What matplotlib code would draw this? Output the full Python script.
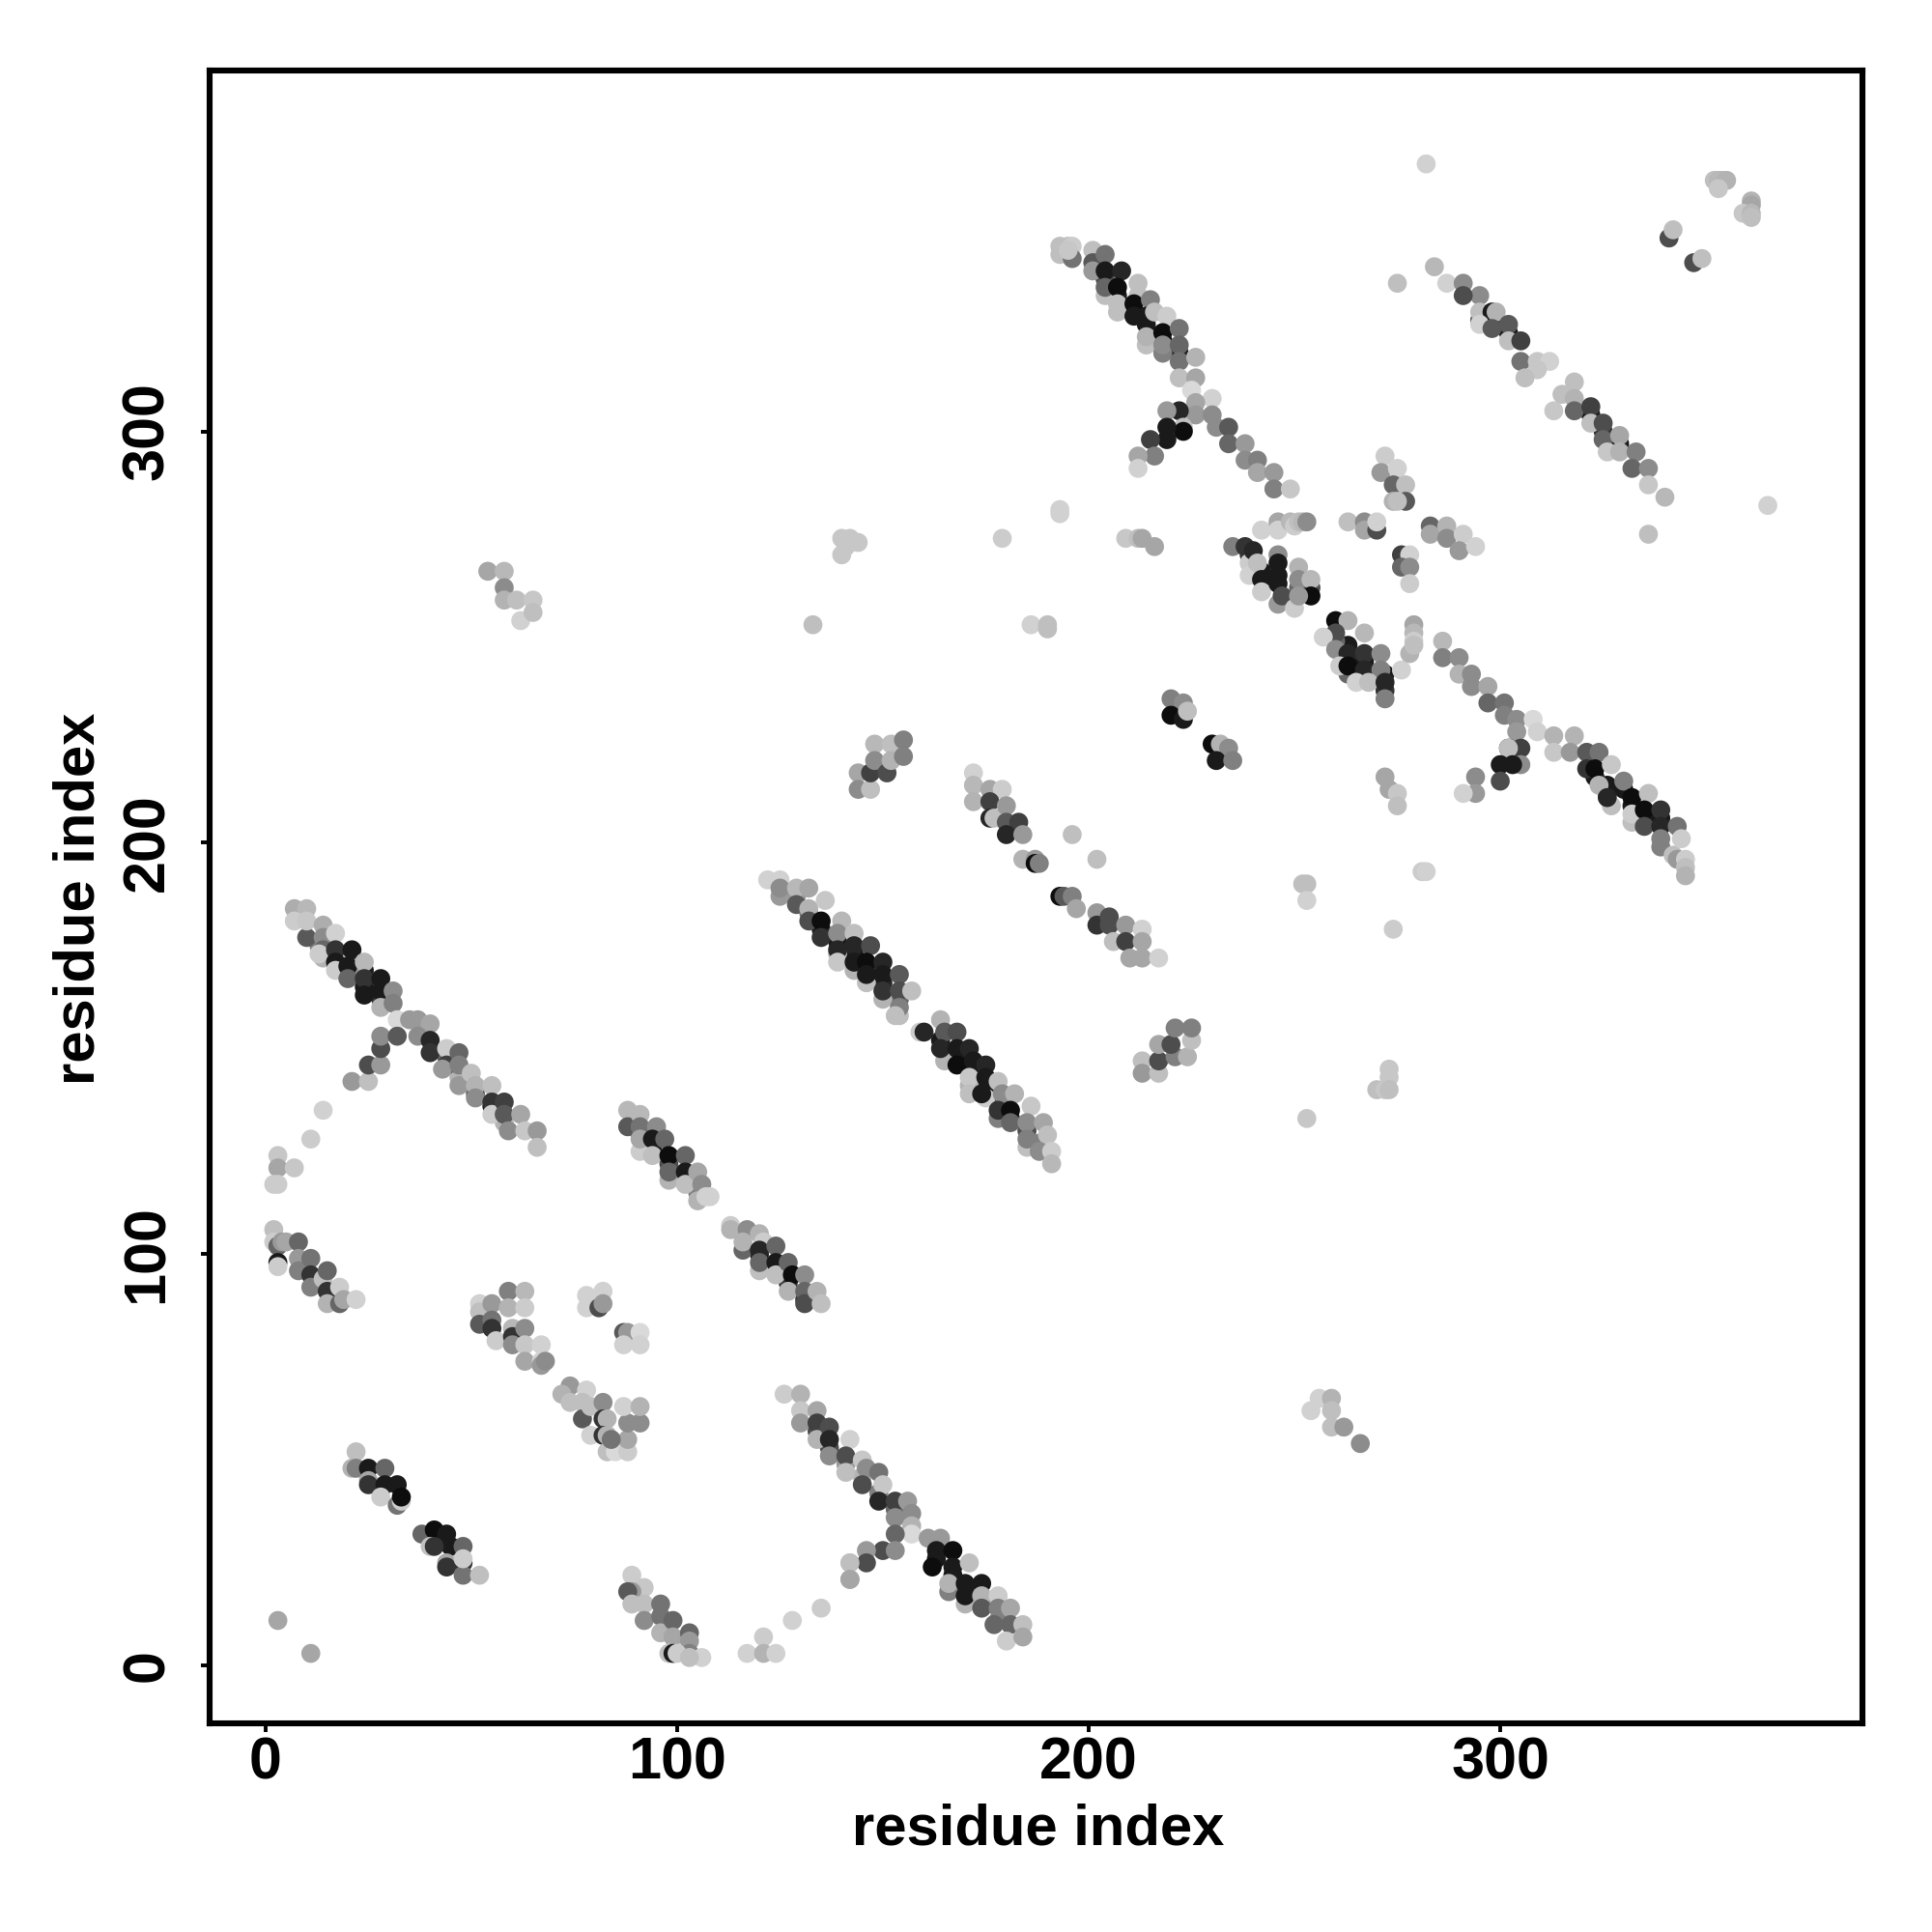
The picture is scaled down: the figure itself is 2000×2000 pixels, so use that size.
import matplotlib
matplotlib.use('Agg')
import matplotlib.pyplot as plt

plt.rcParams['font.family'] = ['Liberation Sans', 'DejaVu Sans']

# points peeking out under the strands, drawn first
under_x = [17,20,24,28,13,14,24,21,44,47,51,55,58,132,135,139,143,146,150,154,129,125,139,143,146,150,154,164,168,171,175,178,181,185,188,171,175,178,165,185,204,207,211,214,218,222,204,207,214,218,323,326,330,332,335,339,327,332,339,342,134,137,141,145,149,153,163,167,170,174,166,170,178,91,94,98,102,98,91,105,120,124,127,131,116,120,242,246,239,251,246,254,263,267,263,267,272,272,260,298,295,302,322,325,329]
under_y = [172,172,165,162,175,172,169,168,148,143,139,136,132,183,179,176,173,170,166,162,187,187,173,169,166,162,158,152,148,145,141,137,133,130,127,141,138,133,147,126,337,333,329,326,322,319,333,329,321,319,216,212,213,209,206,206,209,205,199,197,57,53,49,46,42,38,26,22,18,15,18,15,11,129,126,122,118,118,125,115,100,96,93,89,101,96,266,265,270,262,258,262,248,244,241,240,241,237,249,327,327,324,304,300,297]
under_g = [.1,.75,.1,.2,.5,.7,.1,.6,.4,.7,.35,.1,.7,.45,.1,.1,.1,.15,.15,.4,.6,.6,.7,.7,.75,.7,.75,.1,.1,.1,.1,.3,.15,.3,.5,.7,.8,.5,.7,.75,.3,.1,.05,.1,.05,.1,.75,.75,.75,.5,.1,.1,.1,.1,.1,.1,.75,.75,.5,.75,.3,.3,.6,.7,.5,.4,.1,.1,.1,.6,.5,.7,.5,.4,.1,.3,.5,.7,.8,.5,.1,.2,.2,.2,.4,.75,.1,.1,.2,.4,.6,.3,.1,.1,.4,.7,.1,.2,.4,.1,.35,.1,.1,.2,.1]

# contact strands, values
a_x = [7,10,7,10,10,14,14,14,13,17,17,17,17,21,20,20,24,24,24,28,28,28,31,31,32,35,37,40,37,40,40,44,44,43,47,47,47,50,51,51,55,55,55,58,58,59,62,63,66,66]
a_y = [184,184,181,177,181,180,177,174,173,178,174,171,169,174,170,167,171,167,163,167,164,160,164,161,157,157,157,156,153,152,149,150,146,145,149,146,141,144,141,138,141,137,134,137,134,130,134,130,130,126]
a_g = [.68,.72,.8,.35,.78,.68,.55,.4,.8,.82,.2,.1,.8,.1,.1,.4,.72,.2,.1,.1,.1,.7,.55,.5,.85,.6,.6,.65,.55,.15,.2,.8,.25,.6,.4,.5,.6,.75,.7,.55,.75,.2,.8,.25,.35,.55,.65,.78,.6,.75]

a2_x = [21,25,25,28,28,28,32,14,11,3,3,7,2,3]
a2_y = [142,142,146,146,150,153,153,135,128,124,121,121,117,117]
a2_g = [.6,.75,.3,.6,.3,.55,.35,.82,.8,.78,.65,.78,.8,.8]

b_x = [2,2,3,3,3,4,5,8,8,8,11,11,11,14,15,15,15,18,18,19,22]
b_y = [106,103,102,98,97,103,103,103,99,96,99,95,92,94,96,91,88,92,88,89,89]
b_g = [.75,.8,.4,.1,.8,.6,.65,.4,.6,.5,.45,.2,.5,.75,.4,.2,.7,.8,.4,.65,.82]

c_x = [52,52,52,55,55,55,56,59,63,59,63,60,60,60,63,63,63,67,67,67,68]
c_y = [88,86,83,88,84,82,79,91,91,87,87,82,80,78,82,78,74,78,74,73,74]
c_g = [.82,.75,.35,.6,.45,.2,.8,.5,.72,.7,.8,.72,.2,.55,.55,.78,.65,.82,.82,.6,.55]

d_x = [74,72,78,74,77,77,79,82,82,83,79,82,83,83,85,88,88,84,88,91,87,91]
d_y = [68,66,67,64,64,60,63,64,60,60,56,56,56,52,52,52,55,55,59,59,63,63]
d_g = [.6,.7,.82,.75,.75,.35,.75,.55,.2,.7,.82,.2,.7,.75,.85,.8,.65,.45,.55,.55,.82,.7]

e_x = [78,78,81,82,82,87,88,91,87,91]
e_y = [90,87,87,91,88,81,81,81,78,78]
e_g = [.82,.82,.3,.82,.6,.35,.6,.85,.82,.82]

f_x = [22,21,22,25,25,25,29,29,28,32,32,33,33]
f_y = [52,48,48,48,45,44,48,44,41,44,39,40,41]
f_g = [.75,.7,.5,.1,.65,.2,.4,.1,.8,.1,.45,.8,.05]

g_x = [38,41,40,44,45,41,44,44,48,48,48,52,48]
g_y = [32,33,29,32,29,29,25,24,29,25,22,22,26]
g_g = [.4,.05,.75,.1,.1,.2,.65,.2,.4,.2,.45,.75,.8]

h_x = [89,92,89,88,89,92,92,96,96,96,99,99,103,103,103,98,99,100,106,103]
h_y = [22,19,18,18,15,15,11,15,12,8,11,7,8,6,3,3,3,3,2,2]
h_g = [.8,.78,.6,.35,.75,.75,.55,.45,.45,.7,.4,.65,.4,.6,.5,.75,.1,.8,.82,.75]

h2_x = [117,121,121,124,128,135,142,142,3,11]
h2_y = [3,7,3,3,11,14,21,25,11,3]
h2_g = [.82,.8,.7,.82,.82,.8,.65,.78,.65,.65]

i_x = [88,88,91,91,91,95,94,94,97,98,98,102,102,102,105,106,105,107,108]
i_y = [135,131,134,131,128,131,128,124,128,124,120,124,120,117,120,117,113,114,114]
i_g = [.72,.35,.72,.45,.65,.55,.1,.75,.4,.05,.4,.4,.1,.75,.65,.55,.7,.82,.82]

j_x = [113,113,117,116,120,121,120,120,124,124,124,127,128,127,131,131,131,134,135]
j_y = [107,106,106,103,105,103,101,98,102,98,95,98,95,91,95,91,88,91,88]
j_g = [.8,.7,.55,.7,.7,.8,.15,.4,.4,.1,.75,.4,.05,.7,.55,.4,.3,.7,.75]

k_x = [122,125,125,129,129,132,132,132,136,135,135,140,139,139,139,143,143,143,147,146,146,150,150,150,154,154,154,153,157]
k_y = [191,191,189,189,185,189,184,181,186,181,177,181,178,174,171,178,175,171,175,171,168,171,168,164,168,164,160,158,164]
k_g = [.82,.82,.55,.72,.35,.65,.7,.3,.78,.05,.2,.72,.55,.15,.78,.75,.15,.1,.3,.05,.1,.15,.1,.2,.35,.3,.5,.75,.75]

l_x = [159,160,164,165,168,164,168,171,168,172,175,171,175,171,174,178,179,178,182,181,181,186,185,185,189,190,188,191,191]
l_y = [154,154,157,154,154,150,150,150,146,147,146,143,143,139,139,142,139,135,139,135,132,136,132,128,132,129,125,125,122]
l_g = [.8,.15,.7,.35,.3,.15,.1,.15,.05,.1,.15,.78,.1,.75,.1,.75,.55,.2,.7,.05,.4,.78,.55,.5,.65,.75,.55,.8,.72]

m_x = [172,172,172,176,179,176,176,177,180,180,183,180,184,184,187,187,188]
m_y = [217,214,210,213,213,210,206,206,209,205,205,202,202,196,196,195,195]
m_g = [.82,.72,.7,.65,.8,.25,.15,.75,.6,.35,.25,.15,.6,.7,.6,.05,.5]

n_x = [193,194,196,197,202,202,205,205,206,209,209,210,213,213,213,217,196,202]
n_y = [187,187,187,184,183,180,182,180,176,180,176,172,179,176,172,172,202,196]
n_g = [.05,.35,.5,.65,.6,.2,.3,.3,.75,.6,.25,.65,.82,.65,.65,.82,.75,.75]

o_x = [144,144,147,147,148,148,151,152,152,155,155]
o_y = [217,213,213,217,224,220,217,224,220,225,221]
o_g = [.65,.55,.75,.25,.72,.55,.3,.75,.7,.5,.5]

p_x = [213,213,217,217,217,221,220,221,224,225,225]
p_y = [147,144,144,147,151,148,151,155,148,152,155]
p_g = [.75,.6,.75,.3,.65,.5,.3,.5,.7,.75,.5]

q_x = [126,130,130,130,134,134,134,137,137,137,142,141,141,145,146,145,149,150,149,153,156,153,157,157,157]
q_y = [66,66,62,59,62,59,55,58,55,51,55,51,47,50,48,44,47,44,40,40,40,36,37,34,32]
q_g = [.8,.7,.78,.6,.65,.25,.7,.3,.15,.55,.82,.3,.75,.78,.55,.3,.45,.78,.15,.25,.6,.55,.55,.7,.85]

q2_x = [153,150,153,146,146,142,142]
q2_y = [32,28,28,28,25,25,21]
q2_g = [.4,.3,.55,.6,.3,.75,.65]

r_x = [161,164,163,167,162,167,171,166,170,170,174,174,174,178,178,177,181,181,180,184,184]
r_y = [31,31,28,28,24,24,25,20,20,17,20,17,14,17,14,10,14,10,6,10,7]
r_g = [.6,.6,.1,.05,.05,.1,.75,.7,.1,.1,.1,.7,.35,.8,.5,.4,.65,.4,.8,.75,.65]

s_x = [193,195,196,193,196,195,201,201,204,201,204,204,208,207,212,212,207,211,215,211,214,216,219,214,218,222,218,222,222,226,222,226,225,230,226,226,230,231,234,234,238,238,241,241,245,245,249]
s_y = [345,345,345,343,342,344,344,341,343,339,339,335,339,335,336,333,331,331,332,328,328,329,328,323,324,325,321,321,317,318,313,313,310,308,307,304,304,301,301,297,297,293,293,290,290,286,286]
s_g = [.75,.75,.8,.75,.45,.78,.75,.35,.45,.6,.1,.4,.15,.05,.75,.75,.75,.05,.5,.1,.1,.75,.8,.7,.05,.45,.55,.4,.45,.7,.75,.65,.85,.82,.65,.6,.55,.55,.35,.4,.6,.55,.5,.65,.6,.5,.78]

s2_x = [222,219,223,223,219,219,215,216,212,212]
s2_y = [305,305,301,300,301,298,298,294,294,291]
s2_g = [.15,.6,.75,.05,.1,.1,.25,.5,.65,.82]

t_x = [284,287,275,282,291,295,291,295,298,299,295,298,302,302,305,305,309,312,309,306,318,315,313,318,318,322,322,325,325,326,329,329,333,332,336,336,340,336,365]
t_y = [340,336,336,365,336,333,333,329,329,329,326,325,326,322,322,317,317,317,315,313,312,309,305,308,305,306,302,302,298,295,299,295,295,291,291,287,284,275,282]
t_g = [.72,.82,.75,.82,.55,.55,.3,.75,.1,.7,.82,.35,.35,.75,.25,.45,.78,.82,.78,.75,.75,.75,.78,.7,.4,.25,.75,.3,.4,.78,.65,.7,.5,.4,.55,.78,.72,.75,.82]

tr_x = [341,342,347,349,352,353,354,355,353,361,361,359,361,361]
tr_y = [347,349,341,342,361,361,361,361,359,356,355,353,353,352]
tr_g = [.3,.75,.3,.75,.75,.72,.72,.7,.78,.7,.65,.78,.72,.75]

u_x = [235,238,239,240,239,241,246,246,242,242,246,247,251,251,250,254,254,251]
u_y = [272,272,268,271,265,268,270,268,264,261,263,260,267,264,257,264,260,260]
u_g = [.5,.2,.8,.15,.82,.75,.55,.1,.1,.8,.1,.3,.7,.55,.8,.72,.05,.6]

v_x = [242,246,246,249,250,251,252,253,193,193,209,212,213,216,186,190,190]
v_y = [276,278,276,278,277,278,278,278,281,280,274,274,274,272,253,253,252]
v_g = [.82,.65,.82,.72,.8,.75,.72,.55,.82,.82,.78,.75,.65,.65,.82,.75,.75]

w_x = [263,267,267,270,270,272,271,275,274,277,274,277,275]
w_y = [278,278,276,276,278,294,290,291,287,287,283,283,283]
w_g = [.75,.55,.65,.3,.82,.8,.6,.82,.4,.75,.7,.35,.75]

x2_x = [283,283,287,287,291,290,294,276,278,276,278,278]
x2_y = [277,275,277,274,275,271,272,270,270,267,267,263]
x2_g = [.4,.65,.7,.55,.8,.6,.82,.25,.82,.4,.55,.8]

y2_x = [260,263,260,267,257,260,263,267,271,261,263,267,271,265,268,272,272,276,279,279,279,278,279]
y2_y = [254,254,251,251,250,247,246,246,246,243,243,242,242,239,239,239,235,242,253,251,249,246,248]
y2_g = [.05,.7,.3,.72,.82,.55,.15,.2,.55,.8,.05,.15,.5,.82,.75,.15,.5,.82,.65,.72,.8,.7,.75]

z_x = [286,286,290,290,293,293,297,297,301,301,304,308,309,304,313,313,318,317,321,324]
z_y = [249,245,245,241,241,238,238,234,234,231,230,230,227,227,226,222,226,222,222,222]
z_g = [.72,.5,.55,.7,.55,.55,.65,.4,.45,.5,.55,.85,.82,.6,.7,.78,.7,.6,.35,.45]

z2_x = [321,323,327,326,330,324,326,332,336,332,335,339,335,339,343,339,344,343,345,345,345]
z2_y = [218,218,219,214,215,214,211,211,212,207,208,208,204,204,204,201,201,196,196,194,192]
z2_g = [.2,.05,.78,.1,.5,.7,.15,.05,.75,.8,.05,.2,.3,.15,.45,.5,.8,.6,.8,.75,.7]

z3_x = [305,302,302,305,303,300,300,294,294,291]
z3_y = [223,223,223,219,219,219,215,216,212,212]
z3_g = [.25,.05,.75,.55,.1,.1,.3,.55,.6,.82]

aa_x = [220,223,220,223,224,230,232,234,231,235,272,273,275,275,281,282]
aa_y = [235,234,231,230,232,224,224,223,220,220,216,213,212,209,193,193]
aa_g = [.5,.55,.05,.1,.75,.05,.7,.55,.1,.5,.65,.65,.78,.75,.8,.82]

bb_x = [253,252,253,253,254,256,259,259,259,262,266,274,273,273,270,272,273]
bb_y = [190,190,186,133,62,65,65,62,58,58,54,179,145,143,140,140,140]
bb_g = [.75,.75,.82,.78,.82,.82,.7,.75,.75,.6,.55,.8,.78,.78,.75,.78,.75]

cc_x = [133,179,140,142,144,140,141,54,58,58,58,61,65,62,65]
cc_y = [253,274,274,274,273,270,272,266,266,262,259,259,259,254,256]
cc_g = [.75,.8,.78,.78,.78,.78,.78,.65,.72,.55,.7,.75,.78,.82,.75]

groups = [(under_x,under_y,under_g),
          (a_x,a_y,a_g),(a2_x,a2_y,a2_g),(b_x,b_y,b_g),(c_x,c_y,c_g),(d_x,d_y,d_g),
          (e_x,e_y,e_g),(f_x,f_y,f_g),(g_x,g_y,g_g),(h_x,h_y,h_g),(h2_x,h2_y,h2_g),
          (i_x,i_y,i_g),(j_x,j_y,j_g),(k_x,k_y,k_g),(l_x,l_y,l_g),(m_x,m_y,m_g),
          (n_x,n_y,n_g),(o_x,o_y,o_g),(p_x,p_y,p_g),(q_x,q_y,q_g),(q2_x,q2_y,q2_g),
          (r_x,r_y,r_g),(s_x,s_y,s_g),(s2_x,s2_y,s2_g),(t_x,t_y,t_g),(tr_x,tr_y,tr_g),
          (u_x,u_y,u_g),(v_x,v_y,v_g),(w_x,w_y,w_g),(x2_x,x2_y,x2_g),(y2_x,y2_y,y2_g),
          (z_x,z_y,z_g),(z2_x,z2_y,z2_g),(z3_x,z3_y,z3_g),(aa_x,aa_y,aa_g),(bb_x,bb_y,bb_g),
          (cc_x,cc_y,cc_g)]

tick_vals = [0, 100, 200, 300]

fig = plt.figure(figsize=(10, 10), dpi=200)
ax = fig.add_axes([216.5/2000, 1 - 1784/2000, (1928-216.5)/2000, (1784-73)/2000])

for xs, ys, gs in groups:
    ax.scatter(xs, ys, s=50, c=[str(v) for v in gs], linewidths=0)

# one unit is about 4.26 px in the saved picture
ax.set_xlim(-13.7, 388.0)
ax.set_ylim(-14.0, 387.7)
ax.set_xticks(tick_vals)
ax.set_yticks(tick_vals)
ax.set_xticklabels([str(v) for v in tick_vals], fontsize=22, fontweight='bold')
ax.set_yticklabels([str(v) for v in tick_vals], fontsize=22, fontweight='bold',
                   rotation=90, va='center')
ax.tick_params(axis='x', length=3.4, width=1.4, pad=1.5)
ax.tick_params(axis='y', length=3.4, width=1.4, pad=9)
for sp in ax.spines.values():
    sp.set_linewidth(2.2)

fig.text(1075/2000, 1 - 1894/2000, 'residue index', fontsize=21.5, fontweight='bold',
         ha='center', va='center')
fig.text(82/2000, 1 - 930/2000, 'residue index', fontsize=21.5, fontweight='bold',
         ha='center', va='center', rotation=90)

fig.savefig('out.png', dpi=200)
